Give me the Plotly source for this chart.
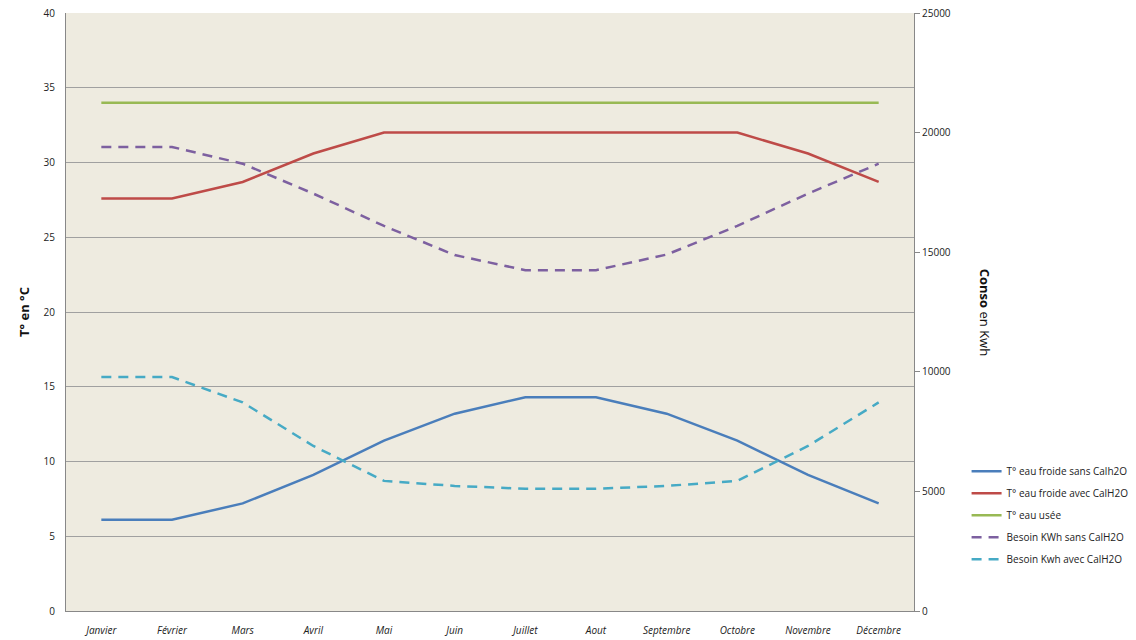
import plotly.graph_objects as go

months = ["Janvier", "Février", "Mars", "Avril", "Mai", "Juin", "Juillet",
          "Aout", "Septembre", "Octobre", "Novembre", "Décembre"]
t_froide_sans = [6.1, 6.1, 7.2, 9.1, 11.4, 13.2, 14.3, 14.3, 13.2, 11.4, 9.1, 7.2]
t_froide_avec = [27.6, 27.6, 28.7, 30.6, 32.0, 32.0, 32.0, 32.0, 32.0, 32.0, 30.6, 28.7]
t_usee = [34] * 12
besoin_sans = [19400, 19400, 18700, 17450, 16100, 14880, 14250, 14250, 14900, 16100, 17450, 18700]
besoin_avec = [9780, 9780, 8720, 6900, 5440, 5230, 5110, 5110, 5230, 5440, 6900, 8720]

font = "Open Sans, Liberation Sans, sans-serif"

fig = go.Figure()
fig.add_trace(go.Scatter(x=months, y=t_froide_sans, name="T° eau froide sans Calh2O", legendgroup="a",
                         mode="lines", line=dict(color="#4A7EBB", width=2.5)))
fig.add_trace(go.Scatter(x=months, y=t_froide_avec, name="T° eau froide avec CalH2O", legendgroup="b",
                         mode="lines", line=dict(color="#BE4B48", width=2.5)))
fig.add_trace(go.Scatter(x=months, y=t_usee, name="T° eau usée", legendgroup="c",
                         mode="lines", line=dict(color="#98B954", width=2.5)))
fig.add_trace(go.Scatter(x=months, y=besoin_sans, name="Besoin KWh sans CalH2O", yaxis="y2", legendgroup="d",
                         mode="lines", line=dict(color="#7D60A0", width=2.5, dash="10px,7px")))
fig.add_trace(go.Scatter(x=months, y=besoin_avec, name="Besoin Kwh avec CalH2O", yaxis="y2", legendgroup="e",
                         mode="lines", line=dict(color="#46AAC5", width=2.5, dash="10px,7px")))

fig.update_layout(
    width=1136, height=640,
    margin=dict(l=66, r=222, t=13, b=29, autoexpand=False),
    paper_bgcolor="white",
    plot_bgcolor="#EEEBE0",
    font=dict(family=font, size=10, color="#222"),
    xaxis=dict(type="category", range=[-0.5, 11.5], showgrid=False, automargin=False,
               showline=True, linecolor="#888", linewidth=1, mirror=False,
               ticks="", ticklabelstandoff=10, tickfont=dict(size=10, style="italic", color="#222")),
    yaxis=dict(range=[0, 40], dtick=5, showgrid=True, gridcolor="#A0A0A0", gridwidth=1,
               showline=True, linecolor="#888", linewidth=1, zeroline=False, automargin=False,
               ticks="", ticklabelstandoff=8, tickfont=dict(size=10),
               title=dict(text="<b>T° en °C</b>", font=dict(size=13, color="#111"), standoff=11)),
    yaxis2=dict(range=[0, 25000], dtick=5000, tickformat="d", overlaying="y", side="right",
                showgrid=False, automargin=False,
                showline=True, linecolor="#888", linewidth=1, zeroline=False,
                ticks="outside", ticklen=5, tickcolor="#888", tickfont=dict(size=10)),
    legend=dict(x=1.062, y=0.258, xanchor="left", yanchor="top", bgcolor="rgba(0,0,0,0)",
                font=dict(size=10), tracegroupgap=3),
    showlegend=True,
)

fig.add_annotation(text="<b>Conso</b> en Kwh", xref="paper", yref="paper",
                   x=1.097, y=0.5, textangle=90, showarrow=False,
                   font=dict(size=13, color="#111"))

fig.write_html("out.html", config={"displayModeBar": False},
               post_script="document.body.style.margin='0';document.body.style.overflow='hidden';")
